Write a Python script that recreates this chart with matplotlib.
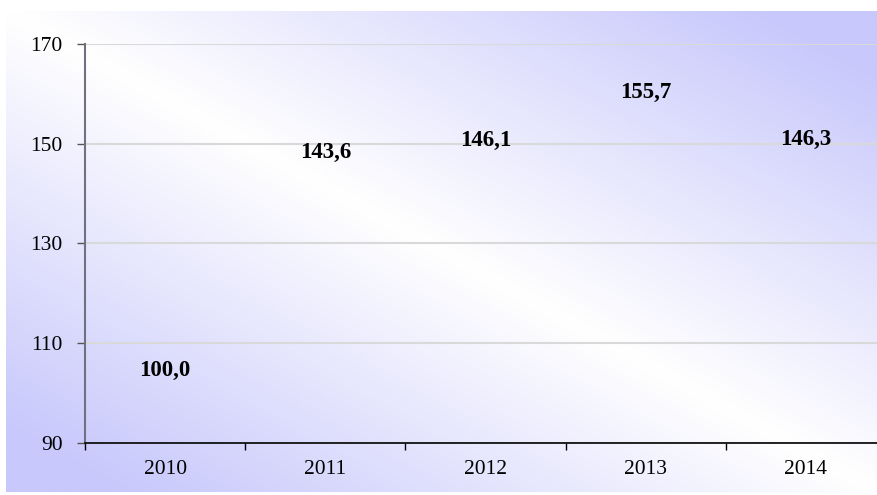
import numpy as np
import matplotlib.pyplot as plt
from matplotlib.colors import LinearSegmentedColormap

# Dados
anos = ['2010', '2011', '2012', '2013', '2014']
indice = [100.0, 143.6, 146.1, 155.7, 146.3]
yticks = [90, 110, 130, 150, 170]

plt.rcParams['font.family'] = ['Liberation Serif', 'DejaVu Serif']

fig = plt.figure(figsize=(8.78, 4.95), dpi=100)

# Fundo em degradê (lavanda nos cantos, branco na diagonal)
bg = fig.add_axes([6 / 878, 3 / 495, 872 / 878, 481 / 495])
bg.set_axis_off()
u = np.linspace(0, 1, 400)
v = np.linspace(0, 1, 300)
U, V = np.meshgrid(u, v)
grad = np.clip(np.abs(U - V) * 1.15, 0, 1)
cmap = LinearSegmentedColormap.from_list('lav', ['#ffffff', '#c8c8fc'])
bg.imshow(grad, cmap=cmap, aspect='auto', extent=[0, 1, 1, 0], vmin=0, vmax=1)
bg.set_xlim(0, 1)
bg.set_ylim(1, 0)

ax = fig.add_axes([85 / 878, 52 / 495, 801 / 878, 399 / 495])
ax.patch.set_alpha(0)
x = np.arange(len(anos))
ax.set_xlim(-0.5, len(anos) - 0.5)
ax.set_ylim(90, 170)

for xi, val in zip(x, indice):
    ax.annotate(f'{val:.1f}'.replace('.', ','), xy=(xi, val), xytext=(0, 23),
                textcoords='offset pixels', ha='center', va='center',
                fontsize=16.5, fontweight='bold', color='black')

ax.set_yticks(yticks)
ax.set_yticklabels([str(t) for t in yticks], fontsize=15.5)
ax.set_xticks(x)
ax.set_xticklabels(anos, fontsize=15.5)
ax.set_xticks(np.arange(-0.5, len(anos) - 0.4, 1), minor=True)
ax.tick_params(axis='x', which='major', length=0, pad=12)
ax.tick_params(axis='x', which='minor', length=5, width=1, color='black', direction='out')
ax.tick_params(axis='y', length=6, width=1, color='#555555', pad=10)

ax.grid(axis='y', color='#d9d9d9', linewidth=1.5)
ax.set_axisbelow(True)
for s in ['top', 'right']:
    ax.spines[s].set_visible(False)
ax.spines['left'].set_color('#707080')
ax.spines['left'].set_linewidth(1.5)
ax.spines['bottom'].set_color('black')
ax.spines['bottom'].set_linewidth(1.2)

fig.savefig('out.png', dpi=100)
